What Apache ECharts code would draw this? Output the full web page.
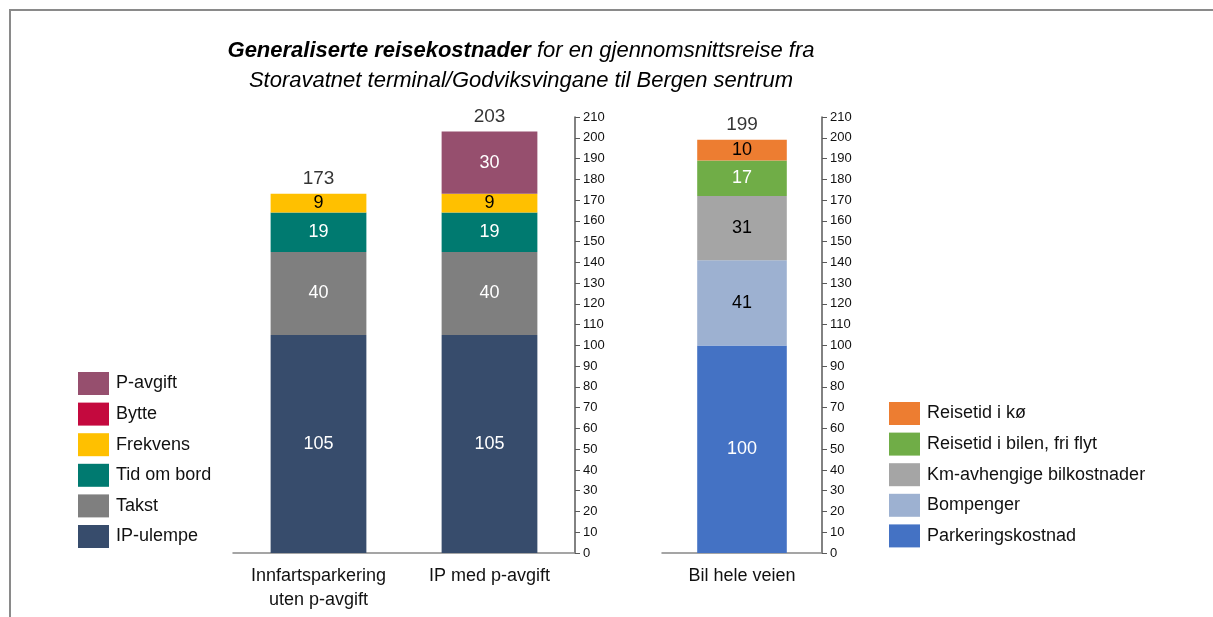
<!DOCTYPE html>
<html><head><meta charset="utf-8">
<script src="https://cdn.jsdelivr.net/npm/echarts@6/dist/echarts.min.js"></script>
<style>
html,body{margin:0;padding:0;background:#fff;}
#c{width:1213px;height:617px;}
#frame{position:absolute;left:9px;top:9px;right:0;bottom:0;border-left:2px solid #8a8a8a;border-top:2px solid #8a8a8a;pointer-events:none;}
</style></head>
<body>
<div id="c"></div><div id="frame"></div>
<script>
// ---- data ----
const leftCategories = ['Innfartsparkering\nuten p-avgift', 'IP med p-avgift'];
const ipUlempe = [105, 105];
const takst = [40, 40];
const tidOmBord = [19, 19];
const frekvens = [9, 9];
const bytte = [0, 0];
const pAvgift = [0, 30];
const leftTotals = [173, 203];

const rightCategories = ['Bil hele veien'];
const parkering = [100];
const bompenger = [41];
const kmKost = [31];
const friFlyt = [17];
const ko = [10];
const rightTotals = [199];

const yTicks = [0, 210, 10];

const FONT = '"Liberation Sans", Arial, sans-serif';
const chart = echarts.init(document.getElementById('c'));

function seg(name, data, color, labelColor, xi, stack) {
  return {
    name: name, type: 'bar', stack: stack, xAxisIndex: xi, yAxisIndex: xi,
    data: data, barWidth: '56%',
    itemStyle: { color: color },
    label: { show: true, position: 'inside', color: labelColor, fontSize: 18, fontFamily: FONT,
      formatter: p => (p.value ? String(p.value) : '') },
    emphasis: { disabled: true }
  };
}
function totals(data, xi) {
  return {
    type: 'scatter', xAxisIndex: xi, yAxisIndex: xi, data: data, symbolSize: 1,
    itemStyle: { color: 'rgba(0,0,0,0)' }, silent: true,
    label: { show: true, position: 'top', distance: 5, color: '#000', fontSize: 19, fontFamily: FONT }
  };
}
function yAx(gi) {
  return {
    type: 'value', gridIndex: gi, position: 'right', min: yTicks[0], max: yTicks[1], interval: yTicks[2],
    axisLine: { show: true, lineStyle: { color: '#595959', width: 1.5 } },
    axisTick: { show: true, length: 5, lineStyle: { color: '#595959' } },
    axisLabel: { color: '#111', fontSize: 13, margin: 8, fontFamily: FONT },
    splitLine: { show: false }
  };
}
function xAx(gi, cats) {
  return {
    type: 'category', gridIndex: gi, data: cats,
    axisLine: { show: true, lineStyle: { color: '#888', width: 1.5 } },
    axisTick: { show: false },
    axisLabel: { interval: 0, color: '#111', fontSize: 18, fontFamily: FONT, margin: 11, lineHeight: 24 }
  };
}
const legendText = { fontSize: 18, color: '#111', fontFamily: FONT, padding: [0, 0, 0, 2] };

chart.setOption({
  animation: false,
  backgroundColor: '#fff',
  title: {
    left: 516, top: 31, textAlign: 'center',
    text: '{b|Generaliserte reisekostnader} {i|for en gjennomsnittsreise fra}\n{i|Storavatnet terminal/Godviksvingane til Bergen sentrum}',
    textStyle: {
      fontWeight: 'normal', fontStyle: 'italic', fontSize: 22, fontFamily: FONT,
      rich: {
        b: { fontSize: 22, fontStyle: 'italic', fontWeight: 'bold', color: '#000', fontFamily: FONT, lineHeight: 30 },
        i: { fontSize: 22, fontStyle: 'italic', fontWeight: 'normal', color: '#000', fontFamily: FONT, lineHeight: 30 }
      }
    }
  },
  grid: [
    { left: 233, right: 638, top: 117, bottom: 64 },
    { left: 662, right: 391, top: 117, bottom: 64 }
  ],
  xAxis: [xAx(0, leftCategories), xAx(1, rightCategories)],
  yAxis: [yAx(0), yAx(1)],
  legend: [
    { orient: 'vertical', left: 73, top: 367, itemWidth: 31, itemHeight: 23, itemGap: 7.6, icon: 'rect',
      textStyle: legendText,
      data: ['P-avgift', 'Bytte', 'Frekvens', 'Tid om bord', 'Takst', 'IP-ulempe'], selectedMode: false },
    { orient: 'vertical', left: 884, top: 397, itemWidth: 31, itemHeight: 23, itemGap: 7.6, icon: 'rect',
      textStyle: legendText,
      data: ['Reisetid i kø', 'Reisetid i bilen, fri flyt', 'Km-avhengige bilkostnader', 'Bompenger', 'Parkeringskostnad'], selectedMode: false }
  ],
  series: [
    seg('IP-ulempe', ipUlempe, '#374C6C', '#fff', 0, 'L'),
    seg('Takst', takst, '#7F7F7F', '#fff', 0, 'L'),
    seg('Tid om bord', tidOmBord, '#007A70', '#fff', 0, 'L'),
    seg('Frekvens', frekvens, '#FFC000', '#000', 0, 'L'),
    seg('Bytte', bytte, '#C4093E', '#fff', 0, 'L'),
    seg('P-avgift', pAvgift, '#964F6E', '#fff', 0, 'L'),
    totals(leftTotals, 0),
    seg('Parkeringskostnad', parkering, '#4472C4', '#fff', 1, 'R'),
    seg('Bompenger', bompenger, '#9DB1D1', '#000', 1, 'R'),
    seg('Km-avhengige bilkostnader', kmKost, '#A5A5A5', '#000', 1, 'R'),
    seg('Reisetid i bilen, fri flyt', friFlyt, '#70AD47', '#fff', 1, 'R'),
    seg('Reisetid i kø', ko, '#ED7D31', '#000', 1, 'R'),
    totals(rightTotals, 1)
  ]
});
</script>
</body></html>
